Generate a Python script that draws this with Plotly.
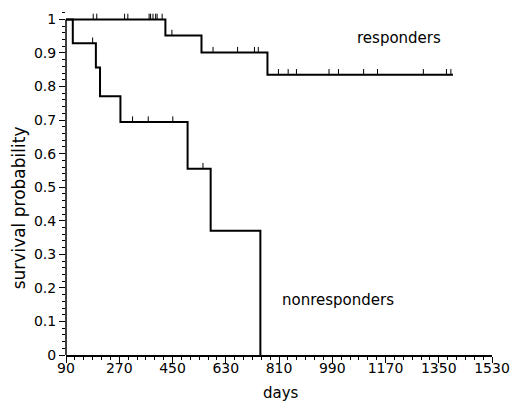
import plotly.graph_objects as go

# Kaplan-Meier step data (days, survival probability)
resp_times = [90, 426, 548, 771, 1398]
resp_surv = [1.0, 0.952, 0.901, 0.835, 0.835]
resp_censor = [182, 194, 288, 299, 371, 376, 384, 393, 398, 415, 448,
               587, 670, 727, 740, 808, 841, 869, 979, 1011, 1096, 1143,
               1298, 1376, 1391]

nonresp_times = [90, 113, 191, 205, 274, 501, 579, 747]
nonresp_surv = [1.0, 0.929, 0.857, 0.771, 0.694, 0.555, 0.370, 0.0]
nonresp_censor = [180, 315, 368, 451, 553]

x_ticks = [90, 270, 450, 630, 810, 990, 1170, 1350, 1530]
y_ticks = [0, 0.1, 0.2, 0.3, 0.4, 0.5, 0.6, 0.7, 0.8, 0.9, 1]
y_tick_text = ["0", "0.1", "0.2", "0.3", "0.4", "0.5", "0.6", "0.7", "0.8", "0.9", "1"]


def level_at(times, surv, t):
    v = surv[0]
    for ti, si in zip(times, surv):
        if ti <= t:
            v = si
    return v


FONT = "DejaVu Sans"
fig = go.Figure()

for times, surv, cens in [(resp_times, resp_surv, resp_censor),
                          (nonresp_times, nonresp_surv, nonresp_censor)]:
    fig.add_trace(go.Scatter(x=times, y=surv, mode="lines", line_shape="hv",
                             line=dict(color="black", width=2),
                             showlegend=False, hoverinfo="skip"))
    cy = [level_at(times, surv, t) for t in cens]
    fig.add_trace(go.Scatter(x=cens, y=cy, mode="markers",
                             marker=dict(size=1, color="black"),
                             error_y=dict(type="data", symmetric=False,
                                          array=[0.017] * len(cens),
                                          arrayminus=[0] * len(cens),
                                          color="black", thickness=1, width=0),
                             showlegend=False, hoverinfo="skip"))

fig.add_annotation(x=1214, y=0.946, xref="x", yref="y", text="responders",
                   showarrow=False, font=dict(family=FONT, size=15, color="black"))
fig.add_annotation(x=1011, y=0.164, xref="x", yref="y", text="nonresponders",
                   showarrow=False, font=dict(family=FONT, size=15, color="black"))
fig.add_annotation(x=(285 - 66) / 433, y=(355 - 393) / 344, xref="paper", yref="paper",
                   xanchor="center", yanchor="middle",
                   text="days", showarrow=False,
                   font=dict(family=FONT, size=15, color="black"))
fig.add_annotation(x=(18 - 66) / 433, y=(355 - 207.5) / 344, xref="paper", yref="paper",
                   xanchor="center", yanchor="middle",
                   text="survival probability", textangle=-90, showarrow=False,
                   font=dict(family=FONT, size=17, color="black"))

# y axis line drawn from 0 to 1 only
fig.add_shape(type="line", xref="paper", yref="y", x0=0, x1=0, y0=0, y1=1,
              line=dict(color="black", width=1.5))

fig.update_layout(
    width=521, height=404,
    margin=dict(l=66, r=22, t=11, b=49),
    paper_bgcolor="white", plot_bgcolor="white",
    font=dict(family=FONT, size=14, color="black"),
    xaxis=dict(range=[90, 1530], tickvals=x_ticks, ticktext=[str(v) for v in x_ticks],
               showgrid=False, zeroline=False, showline=True, linecolor="black",
               linewidth=1.5, ticks="outside", ticklen=6, tickwidth=1.2,
               tickcolor="black", ticklabelstandoff=-7,
               minor=dict(dtick=30, tick0=90, ticks="outside", ticklen=3,
                          tickwidth=1, tickcolor="black", showgrid=False)),
    yaxis=dict(range=[0, 1.025], tickvals=y_ticks, ticktext=y_tick_text,
               showgrid=False, zeroline=False, showline=False,
               ticks="outside", ticklen=6, tickwidth=1.2,
               tickcolor="black",
               minor=dict(dtick=0.02, tick0=0, ticks="outside", ticklen=3,
                          tickwidth=1, tickcolor="black", showgrid=False)),
)

fig.write_html("out.html")
